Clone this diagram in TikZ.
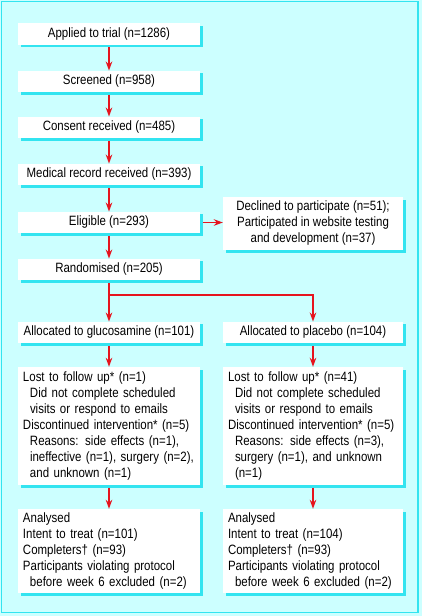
\documentclass[tikz,border=0pt]{standalone}
\usepackage{fontspec}
\setmainfont{Liberation Sans}[FakeStretch=0.85]
\usetikzlibrary{shadows,arrows.meta}
\definecolor{bgcyan}{RGB}{204,255,255}
\definecolor{shadecyan}{RGB}{51,228,240}
\definecolor{arrowred}{RGB}{230,20,30}

\begin{document}
\begin{tikzpicture}[x=1pt,y=-1pt,
    box/.style={fill=white, inner sep=0pt,
      drop shadow={shadow xshift=2.5pt,shadow yshift=-2.5pt,fill=shadecyan,opacity=1},
      font=\fontsize{13.5}{16}\selectfont},
    lbox/.style={box, minimum width=182pt, minimum height=21.5pt, align=center},
    rbox/.style={box, minimum width=180pt, minimum height=21.5pt, align=center},
    listbox/.style={box, align=left, inner xsep=5pt},
    flow/.style={draw=arrowred, line width=1.3pt, shorten <=2.5pt,
      -{Stealth[length=9pt,width=6.5pt]}}]

    % background and frame
    \fill[bgcyan] (0,0) rectangle (422,616);
    \draw[shadecyan, line width=1.8pt] (1.5,1.5) rectangle (418,612.5);

    % main column
    \node[lbox] (apply) at (109,34) {Applied to trial (n=1286)};
    \node[lbox] (screen) at (109,81.5) {Screened (n=958)};
    \node[lbox] (consent) at (109,127.5) {Consent received (n=485)};
    \node[lbox] (record) at (109,174.5) {Medical record received (n=393)};
    \node[lbox] (eligible) at (109,222.5) {Eligible (n=293)};
    \node[rbox, minimum height=53pt] (declined) at (313,223.5)
        {Declined to participate (n=51);\\Participated in website testing\\and development (n=37)};
    \node[lbox] (random) at (109,269.5) {Randomised (n=205)};

    % two arms
    \node[lbox] (glucos) at (109,332.5) {Allocated to glucosamine (n=101)};
    \node[rbox] (placebo) at (313,332.5) {Allocated to placebo (n=104)};

    \node[listbox, text width=172pt, minimum height=118pt] (glost) at (109,426)
        {Lost to follow up* (n=1)\\
         \hspace*{7pt}Did not complete scheduled\\
         \hspace*{7pt}visits or respond to emails\\
         Discontinued intervention* (n=5)\\
         \hspace*{7pt}Reasons: side effects (n=1),\\
         \hspace*{7pt}ineffective (n=1), surgery (n=2),\\
         \hspace*{7pt}and unknown (n=1)};
    \node[listbox, text width=170pt, minimum height=118pt] (plost) at (313,426)
        {Lost to follow up* (n=41)\\
         \hspace*{7pt}Did not complete scheduled\\
         \hspace*{7pt}visits or respond to emails\\
         Discontinued intervention* (n=5)\\
         \hspace*{7pt}Reasons: side effects (n=3),\\
         \hspace*{7pt}surgery (n=1), and unknown\\
         \hspace*{7pt}(n=1)};

    \node[listbox, text width=172pt, minimum height=84pt] (ganal) at (109,551)
        {Analysed\\
         Intent to treat (n=101)\\
         Completers\textdagger{} (n=93)\\
         Participants violating protocol\\
         \hspace*{7pt}before week 6 excluded (n=2)};
    \node[listbox, text width=170pt, minimum height=84pt] (panal) at (313,551)
        {Analysed\\
         Intent to treat (n=104)\\
         Completers\textdagger{} (n=93)\\
         Participants violating protocol\\
         \hspace*{7pt}before week 6 excluded (n=2)};

    % connectors
    \coordinate (split) at (109,295);
    \draw[flow] (apply) -- (screen);
    \draw[flow] (screen) -- (consent);
    \draw[flow] (consent) -- (record);
    \draw[flow] (record) -- (eligible);
    \draw[flow] (eligible.east) -- (eligible.east -| declined.west);
    \draw[flow] (eligible) -- (random);
    \draw[flow] (random) -- (glucos);
    \draw[flow, shorten <=0pt] (split) -| (placebo);
    \draw[flow] (glucos) -- (glost);
    \draw[flow] (placebo) -- (plost);
    \draw[flow] (glost) -- (ganal);
    \draw[flow] (plost) -- (panal);
\end{tikzpicture}
\end{document}
